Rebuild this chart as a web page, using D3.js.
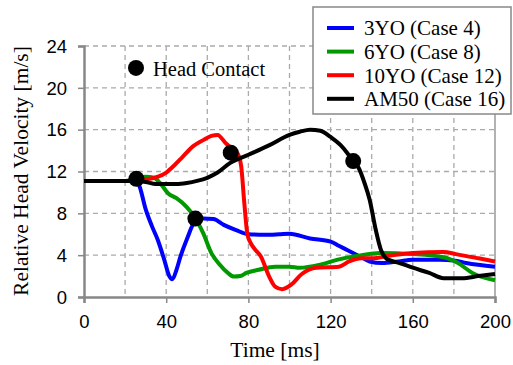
<!DOCTYPE html>
<html>
<head>
<meta charset="utf-8">
<script src="https://cdn.jsdelivr.net/npm/d3@7"></script>
<style>
  body { margin: 0; background: #fff; }
  svg { display: block; }
</style>
</head>
<body>
<div id="chart"></div>
<script>
// series data: time [ms] and relative head velocity [m/s]
const blueT = [0, 20, 25, 27, 30, 33, 36, 39, 41.5, 43, 45, 47, 50, 54, 58, 63, 68, 74, 80, 88, 95, 100, 110, 120, 124, 129, 134, 139, 145, 153, 160, 173, 180, 186, 200];
const blueV = [11.1, 11.1, 11.2, 10.6, 8.4, 6.8, 5.4, 3.6, 2.0, 1.7, 2.6, 3.9, 5.5, 7.2, 7.5, 7.45, 6.9, 6.4, 6.0, 5.95, 6.0, 6.05, 5.6, 5.3, 4.9, 4.4, 3.9, 3.4, 3.25, 3.4, 3.55, 3.55, 3.5, 3.25, 2.9];

const greenT = [0, 20, 25, 30, 34, 37, 41, 45, 50, 54, 58, 62, 66, 70, 73, 76, 79, 85, 93, 100, 105, 115, 124, 134, 144, 160, 175, 182, 189, 200];
const greenV = [11.1, 11.1, 11.3, 11.5, 11.4, 10.9, 9.9, 9.45, 8.6, 7.6, 6.1, 4.2, 3.1, 2.3, 1.95, 2.0, 2.3, 2.6, 2.9, 2.9, 2.8, 3.1, 3.6, 3.95, 4.2, 4.1, 3.8, 3.25, 2.3, 1.6];

const redT = [0, 20, 27, 32, 36, 40, 44, 48, 53, 58, 62, 65, 69, 72, 74, 75.5, 76.5, 78, 79.5, 81, 83, 86, 90, 93, 96.5, 101, 106, 113, 124, 129, 135, 141, 147, 160, 175, 181, 192, 200];
const redV = [11.1, 11.1, 11.2, 11.3, 11.5, 11.9, 12.6, 13.4, 14.4, 15.0, 15.4, 15.5, 14.7, 14.2, 13.9, 13.4, 12.5, 9.0, 6.0, 5.2, 4.6, 3.9, 2.0, 1.0, 0.75, 1.2, 2.2, 2.8, 2.9, 3.4, 3.7, 3.7, 3.9, 4.2, 4.3, 4.1, 3.7, 3.4];

const blackT = [0, 10, 20, 25, 30, 35, 45, 50, 55, 60, 65, 71, 80, 90, 100, 105, 110, 115, 120, 125, 128, 131, 133.5, 136.5, 139, 142, 144.5, 147, 149, 153.5, 160, 168, 175, 184, 192, 200];
const blackV = [11.1, 11.1, 11.1, 11.1, 11.0, 10.8, 10.8, 10.9, 11.1, 11.4, 11.9, 12.8, 13.6, 14.5, 15.5, 15.8, 16.0, 15.9, 15.3, 14.5, 13.8, 13.0, 12.4, 10.9, 9.3, 6.4, 4.5, 3.7, 3.5, 3.25, 2.8, 2.3, 1.8, 1.8, 2.0, 2.2];

const contactT = [25.5, 54.2, 71.4, 131];
const contactV = [11.3, 7.5, 13.8, 13.0];

const seriesNames = ["3YO (Case 4)", "6YO (Case 8)", "10YO (Case 12)", "AM50 (Case 16)"];
const seriesColors = ["#0000ff", "#009900", "#ff0000", "#000000"];
const seriesT = [blueT, greenT, redT, blackT];
const seriesV = [blueV, greenV, redV, blackV];

const xTicks = [0, 40, 80, 120, 160, 200];
const yTicks = [0, 4, 8, 12, 16, 20, 24];
const xGrid = [20, 40, 60, 80, 100, 120, 140, 160, 180];
const yGrid = [4, 8, 12, 16, 20];

const W = 513, H = 365;
const margin = { top: 46, right: 18, bottom: 68, left: 84 };
const width = W - margin.left - margin.right;
const height = H - margin.top - margin.bottom;

const svg = d3.select("#chart").append("svg")
    .attr("width", W)
    .attr("height", H);

const g = svg.append("g")
    .attr("transform", "translate(" + margin.left + "," + margin.top + ")");

const x = d3.scaleLinear().domain([0, 200]).range([0, width]);
const y = d3.scaleLinear().domain([0, 24]).range([height, 0]);

// dashed grid
g.selectAll(".vgrid").data(xGrid).enter().append("line")
    .attr("x1", d => x(d)).attr("x2", d => x(d))
    .attr("y1", 0).attr("y2", height)
    .attr("stroke", "#aaaaaa").attr("stroke-width", 1.3)
    .attr("stroke-dasharray", "5,4");

g.selectAll(".hgrid").data(yGrid).enter().append("line")
    .attr("x1", 0).attr("x2", width)
    .attr("y1", d => y(d)).attr("y2", d => y(d))
    .attr("stroke", "#aaaaaa").attr("stroke-width", 1.3)
    .attr("stroke-dasharray", "5,4");

// top gridline at 24 is dashed too
g.append("line")
    .attr("x1", 0).attr("x2", width)
    .attr("y1", y(24)).attr("y2", y(24))
    .attr("stroke", "#aaaaaa").attr("stroke-width", 1.3)
    .attr("stroke-dasharray", "5,4");
g.append("line")
    .attr("x1", width).attr("x2", width)
    .attr("y1", 0).attr("y2", height)
    .attr("stroke", "#999999").attr("stroke-width", 1.5);

// axes
const xAxis = g.append("g")
    .attr("transform", "translate(0," + height + ")")
    .call(d3.axisBottom(x).tickValues(xTicks).tickSize(6).tickPadding(7));
const yAxis = g.append("g")
    .call(d3.axisLeft(y).tickValues(yTicks).tickSize(6).tickPadding(11));

[xAxis, yAxis].forEach(a => {
    a.select(".domain").attr("stroke", "#888888").attr("stroke-width", 2.5);
    a.selectAll(".tick line").attr("stroke", "#888888").attr("stroke-width", 1.5);
    a.selectAll("text")
        .attr("fill", "#000")
        .style("font-family", "'Liberation Sans', Arial, sans-serif")
        .style("font-size", "18.5px");
});
yAxis.selectAll("text").attr("dy", "0.34em");
xAxis.selectAll("text").attr("dy", "0.95em");

// lines
const line = d3.line()
    .x(d => x(d[0]))
    .y(d => y(d[1]))
    .curve(d3.curveMonotoneX);

seriesT.forEach((ts, i) => {
    const pts = ts.map((t, j) => [t, seriesV[i][j]]);
    g.append("path")
        .datum(pts)
        .attr("fill", "none")
        .attr("stroke", seriesColors[i])
        .attr("stroke-width", 4)
        .attr("stroke-linejoin", "round")
        .attr("d", line);
});

// head contact markers
g.selectAll(".contact").data(contactT).enter().append("circle")
    .attr("cx", d => x(d))
    .attr("cy", (d, i) => y(contactV[i]))
    .attr("r", 8)
    .attr("fill", "#000");

// head contact label
g.append("circle")
    .attr("cx", x(25.3)).attr("cy", y(21.9)).attr("r", 8).attr("fill", "#000");
g.append("text")
    .attr("x", x(25.3) + 17).attr("y", y(21.9) + 8.5)
    .style("font-family", "'Liberation Serif', 'Times New Roman', serif")
    .style("font-size", "20.5px")
    .text("Head Contact");

// axis titles
svg.append("text")
    .attr("x", 275).attr("y", 357)
    .attr("text-anchor", "middle")
    .style("font-family", "'Liberation Serif', 'Times New Roman', serif")
    .style("font-size", "21.5px")
    .text("Time [ms]");

svg.append("text")
    .attr("transform", "translate(28," + 171 + ") rotate(-90)")
    .attr("text-anchor", "middle")
    .style("font-family", "'Liberation Serif', 'Times New Roman', serif")
    .style("font-size", "21.5px")
    .text("Relative Head Velocity [m/s]");

// legend
const legend = svg.append("g").attr("transform", "translate(313,7)");
legend.append("rect")
    .attr("width", 198).attr("height", 107)
    .attr("fill", "#fff")
    .attr("stroke", "#888888").attr("stroke-width", 1.5);

const legendItems = legend.selectAll(".legend-item")
    .data(seriesNames)
    .enter().append("g")
    .attr("transform", (d, i) => "translate(0," + (21 + i * 23.6) + ")");

legendItems.append("line")
    .attr("x1", 14).attr("x2", 41)
    .attr("stroke", (d, i) => seriesColors[i])
    .attr("stroke-width", 4);

legendItems.append("text")
    .attr("x", 51).attr("y", 7.3)
    .style("font-family", "'Liberation Serif', 'Times New Roman', serif")
    .style("font-size", "21px")
    .text(d => d);
</script>
</body>
</html>
